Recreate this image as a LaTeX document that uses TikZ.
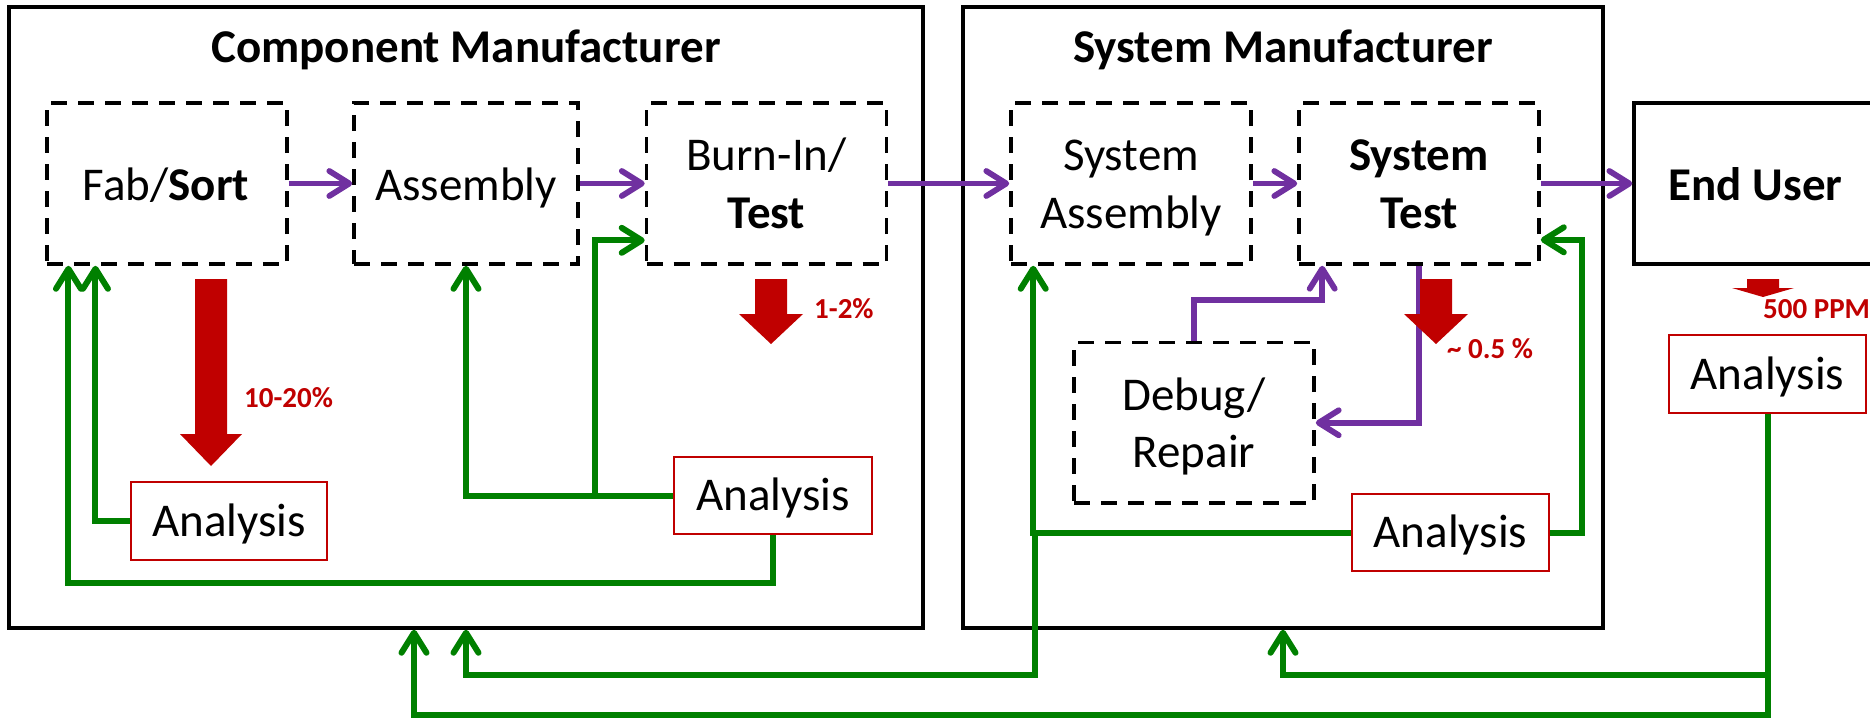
\documentclass[tikz,border=0pt]{standalone}
\usepackage{fontspec}
\setmainfont{Carlito}
\usetikzlibrary{arrows.meta}
\definecolor{cGreen}{HTML}{008000}
\definecolor{cPurple}{HTML}{7030A0}
\definecolor{cRed}{HTML}{C00000}
\newcommand\bigtxt{\fontsize{47}{56}\selectfont}
\newcommand\lbltxt{\fontsize{29}{34}\selectfont\bfseries}
\begin{document}
\begin{tikzpicture}[x=1pt,y=-1pt,
  frame/.style={draw=black, line width=3.5pt, rectangle, inner sep=0pt},
  dbox/.style={draw=black, line width=3.6pt, dash pattern=on 16pt off 11pt, rectangle, inner sep=0pt, minimum width=240pt, minimum height=161pt},
  abox/.style={draw=cRed, line width=2.2pt, rectangle, inner sep=0pt, minimum width=197pt, minimum height=78pt, font=\bigtxt, text height=30pt, text depth=0pt},
  txt/.style={anchor=base, inner sep=0pt, font=\bigtxt},
  lbl/.style={anchor=base west, inner sep=0pt, font=\lbltxt, text=cRed},
  tipb/.style={-{Straight Barb[length=20pt,width=25pt,round]}},
  garr/.style={draw=cGreen, line width=6pt, tipb},
  parr/.style={draw=cPurple, line width=5.8pt, tipb},
  fat/.style={fill=cRed},
]
\useasboundingbox (0,0) rectangle (1870,718);
\clip (0,0) rectangle (1870,718);

% frames
\node[frame, minimum width=914pt, minimum height=621pt] (comp) at (466,317.5) {};
\node[frame, minimum width=640pt, minimum height=621pt] (sys) at (1283,317.5) {};
\node[frame, minimum width=244pt, minimum height=161pt] (end) at (1756,183.5) {};

\node[txt] (compT) at (466,62) {\bfseries Component Manufacturer};
\node[txt] (sysT) at (1283,62) {\bfseries System Manufacturer};

% dashed process boxes
\node[dbox] (fab) at (166.75,183.5) {};
\node[dbox, minimum width=224pt] (asm) at (466,183.5) {};
\node[dbox] (bt) at (766.5,183.5) {};
\node[dbox] (sa) at (1131,183.5) {};
\node[dbox] (st) at (1419,183.5) {};
\node[dbox, minimum height=160.5pt] (dr) at (1194,422.75) {};

\node[txt] (fabT) at (166,200) {Fab/\textbf{Sort}};
\node[txt] (asmT) at (466,200) {Assembly};
\node[txt] (btA) at (766.5,170) {Burn-In/};
\node[txt] (btB) at (766.5,228) {\bfseries Test};
\node[txt] (saA) at (1131,170) {System};
\node[txt] (saB) at (1131,228) {Assembly};
\node[txt] (stA) at (1419,170) {\bfseries System};
\node[txt] (stB) at (1419,228) {\bfseries Test};
\node[txt] (endT) at (1755.5,200) {\bfseries End User};
\node[txt] (drA) at (1194,410) {Debug/};
\node[txt] (drB) at (1194,467) {Repair};

% analysis boxes
\node[abox, minimum width=196pt] (an1) at (229,521) {Analysis};
\node[abox, minimum width=198pt, minimum height=77pt] (an2) at (773,495.5) {Analysis};
\node[abox, minimum height=77pt] (an3) at (1450.5,532.5) {Analysis};
\node[abox] (an4) at (1767.5,374) {Analysis};

% purple flow
\draw[parr] (fab.east) -- (asm.west);
\draw[parr] (asm.east) -- (bt.west);
\draw[parr] (bt.east) -- (sa.west);
\draw[parr] (sa.east) -- (st.west);
\draw[parr] (st.east) -- (end.west);
\draw[parr] (dr.north) -- ++(0,-40.5) -| ([xshift=25pt]st.south west);
\draw[parr] (st.south) |- (dr.east);

% green feedback
\coordinate (jA) at (594.5,495.5);
\coordinate (jB) at (1035,532.5);
\coordinate (jC) at (1767.5,675);
\draw[garr] (an1.west) -| ([xshift=50.5pt]fab.south west);
\draw[garr] (an2.south) -- ++(0,48) -| ([xshift=23.5pt]fab.south west);
\draw[garr] (an2.west) -| (asm.south);
\draw[garr] (jA) |- ([yshift=25.5pt]bt.south west);
\draw[garr] (an3.east) -- ++(32,0) |- ([yshift=26pt]st.south east);
\draw[garr] (an3.west) -| ([xshift=24pt]sa.south west);
\draw[garr] (jB) -- ++(0,142.5) -| (comp.south);
\draw[garr] (an4.south) -- ++(0,301) -| ([xshift=-52pt]comp.south);
\draw[garr] (jC) -| (sys.south);

% red fallout arrows
\fill[fat] (195,279) -- (227,279) -- (227,434) -- (242,434) -- (211,466) -- (180,434) -- (195,434) -- cycle;
\fill[fat] (755,279) -- (787,279) -- (787,314) -- (803,314) -- (771,344) -- (739,314) -- (755,314) -- cycle;
\fill[fat] (1420,279) -- (1452,279) -- (1452,314) -- (1468,314) -- (1436,344) -- (1404,314) -- (1420,314) -- cycle;
\fill[fat] (1747,279) -- (1779,279) -- (1779,288) -- (1794,288) -- (1763,297) -- (1732,288) -- (1747,288) -- cycle;

\node[lbl] (l1) at (244,407.5) {10-20\%};
\node[lbl] (l2) at (814,318) {1-2\%};
\node[lbl] (l3) at (1447,358) {\textasciitilde{} 0.5 \%};
\node[lbl] (l4) at (1763,318) {500 PPM};
\end{tikzpicture}
\end{document}
